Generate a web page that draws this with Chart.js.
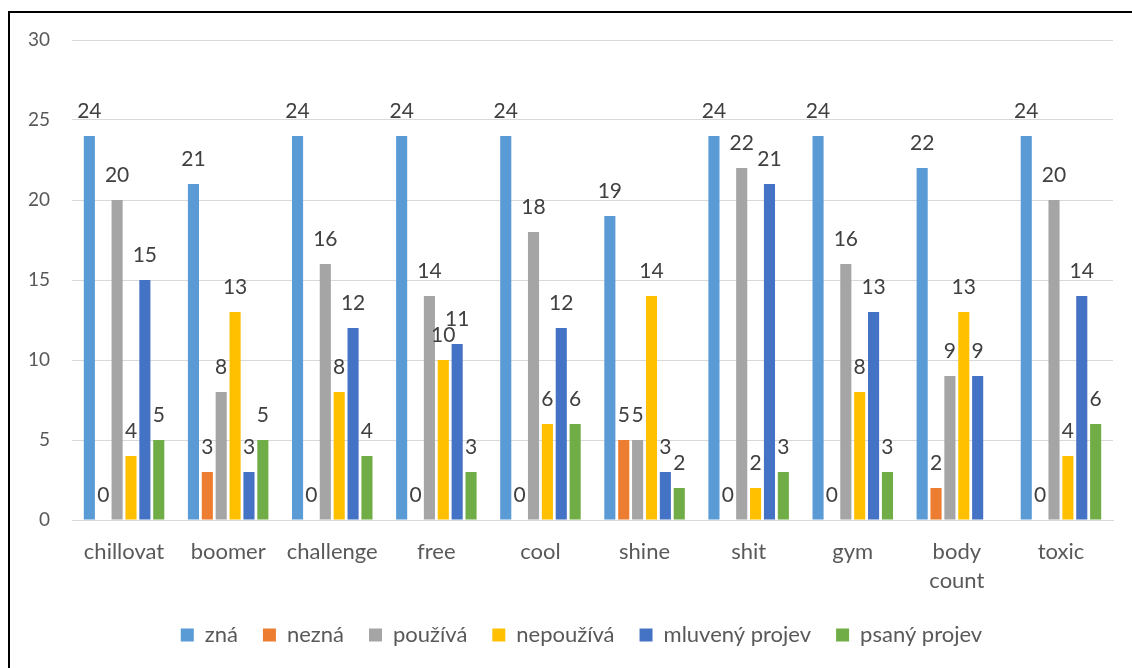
<!DOCTYPE html>
<html>
<head>
<meta charset="utf-8">
<script src="https://cdn.jsdelivr.net/npm/chart.js@4"></script>
<style>
  html, body { margin: 0; padding: 0; background: #fff; }
  #wrap { position: absolute; left: 0; top: 0; width: 1132px; height: 668px; }
  #frame { position: absolute; left: 8px; top: 11px; width: 1200px; height: 700px;
           border-left: 2px solid #000; border-top: 2px solid #000; pointer-events: none; }
</style>
</head>
<body>
<div id="wrap"><canvas id="c" width="1132" height="668"></canvas></div>
<div id="frame"></div>
<script>
const categories = ["chillovat", "boomer", "challenge", "free", "cool", "shine", "shit", "gym", ["body", "count"], "toxic"];
const seriesNames = ["zná", "nezná", "používá", "nepoužívá", "mluvený projev", "psaný projev"];
const zna       = [24, 21, 24, 24, 24, 19, 24, 24, 22, 24];
const nezna     = [0, 3, 0, 0, 0, 5, 0, 0, 2, 0];
const pouziva   = [20, 8, 16, 14, 18, 5, 22, 16, 9, 20];
const nepouziva = [4, 13, 8, 10, 6, 14, 2, 8, 13, 4];
const mluveny   = [15, 3, 12, 11, 12, 3, 21, 13, 9, 14];
const psany     = [5, 5, 4, 3, 6, 2, 3, 3, null, 6];
const yTicks = [0, 5, 10, 15, 20, 25, 30];
const colors = ["#5B9BD5", "#ED7D31", "#A5A5A5", "#FFC000", "#4472C4", "#70AD47"];

const FONT = "Lato, 'Open Sans', sans-serif";
const seriesValues = [zna, nezna, pouziva, nepouziva, mluveny, psany];

const labelPlugin = {
  id: "barLabels",
  afterDatasetsDraw(chart) {
    const ctx = chart.ctx;
    ctx.save();
    ctx.font = "21px " + FONT;
    ctx.fillStyle = "#404040";
    ctx.textAlign = "center";
    ctx.textBaseline = "middle";
    chart.data.datasets.forEach((ds, i) => {
      const meta = chart.getDatasetMeta(i);
      meta.data.forEach((el, j) => {
        const v = ds.data[j];
        if (v === null || v === undefined) return;
        ctx.fillText(String(v), el.x, el.y - 25);
      });
    });
    ctx.restore();
  }
};

const legendShift = {
  id: "legendShift",
  afterLayout(chart) {
    if (chart.legend) {
      chart.legend.left += 20;
      chart.legend.right += 20;
    }
  }
};

new Chart(document.getElementById("c"), {
  type: "bar",
  data: {
    labels: categories,
    datasets: seriesNames.map((n, i) => ({
      label: n,
      data: seriesValues[i],
      backgroundColor: colors[i],
      borderWidth: 0,
      categoryPercentage: 0.8,
      barPercentage: 0.8
    }))
  },
  options: {
    responsive: false,
    animation: false,
    devicePixelRatio: 1,
    layout: { padding: { left: 10, right: 19, top: 40, bottom: 12 } },
    plugins: {
      tooltip: { enabled: false },
      legend: {
        position: "bottom",
        labels: {
          boxWidth: 13, boxHeight: 13,
          color: "#595959",
          font: { family: FONT, size: 22 },
          padding: 25
        }
      }
    },
    scales: {
      x: {
        grid: { display: false },
        border: { color: "#D9D9D9", width: 1 },
        ticks: { color: "#595959", font: { family: FONT, size: 22, lineHeight: 1.3 }, maxRotation: 0, padding: 10 },
        afterFit(scale) { scale.height = 79; }
      },
      y: {
        min: 0, max: 30,
        afterBuildTicks(scale) { scale.ticks = yTicks.map(v => ({ value: v })); },
        grid: { color: "#D9D9D9", lineWidth: 1, drawTicks: false },
        border: { display: false },
        ticks: { color: "#595959", font: { family: FONT, size: 19 }, padding: 22 },
        afterFit(scale) { scale.width = 62; }
      }
    }
  },
  plugins: [labelPlugin, legendShift]
});
</script>
</body>
</html>
